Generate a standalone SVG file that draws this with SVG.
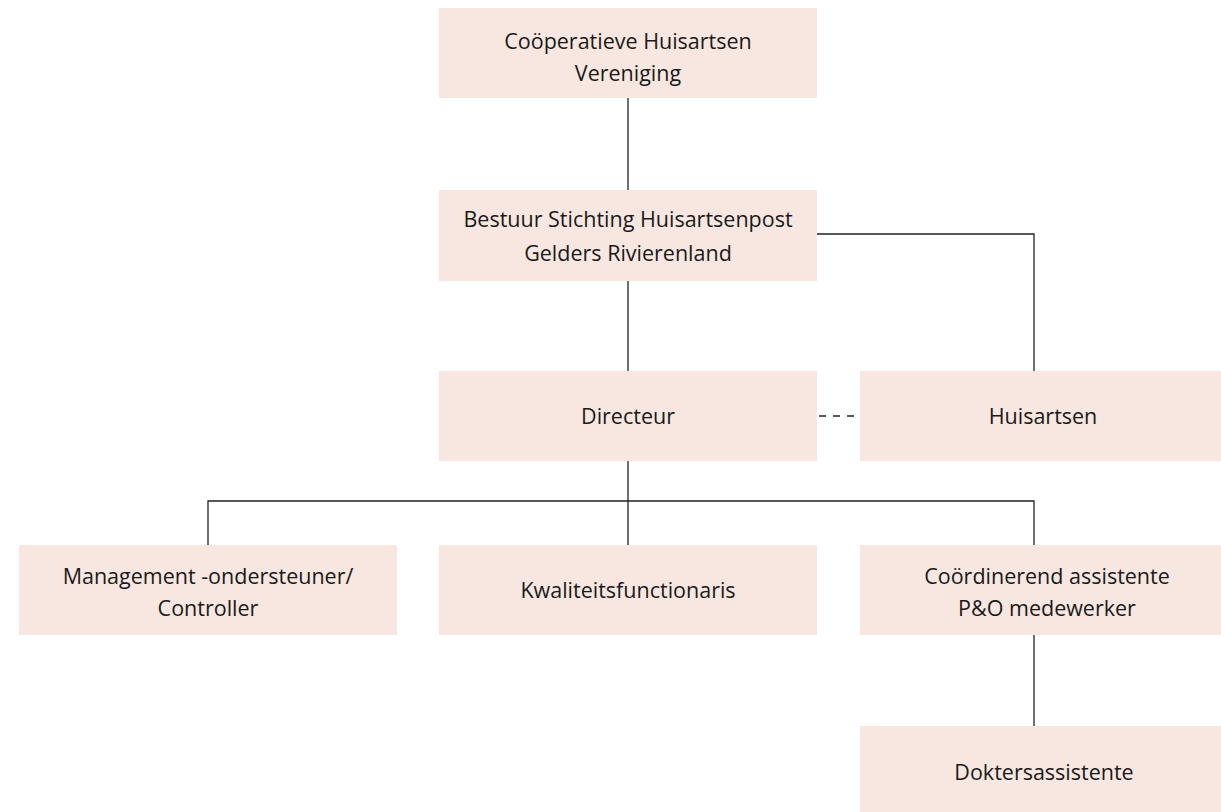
<svg xmlns="http://www.w3.org/2000/svg" width="1221" height="812" viewBox="0 0 1221 812">
<style>
.box{fill:#f7e7e0}
.t{font-family:"Open Sans","Liberation Sans",sans-serif;font-size:21.5px;fill:#1a1a1a;text-anchor:middle}
.c{stroke:#222;stroke-width:1.3;fill:none}
</style>
<rect width="1221" height="812" fill="#fff"/>
<g id="connectors">
<line class="c" x1="628" y1="98" x2="628" y2="190"/>
<line class="c" x1="628" y1="281" x2="628" y2="371"/>
<polyline class="c" points="817,234 1034,234 1034,371"/>
<line class="c" x1="817" y1="416" x2="860" y2="416" stroke-dasharray="7,7" stroke-dashoffset="-2"/>
<line class="c" x1="628" y1="461" x2="628" y2="545"/>
<polyline class="c" points="208,545 208,501 1034,501 1034,545"/>
<line class="c" x1="1034" y1="635" x2="1034" y2="726"/>
</g>
<g id="n1"><rect class="box" x="439" y="8" width="378" height="90"/><text class="t" x="628" y="49">Coöperatieve Huisartsen</text><text class="t" x="628" y="81">Vereniging</text></g>
<g id="n2"><rect class="box" x="439" y="190" width="378" height="91"/><text class="t" x="628" y="227">Bestuur Stichting Huisartsenpost</text><text class="t" x="628" y="261">Gelders Rivierenland</text></g>
<g id="n3"><rect class="box" x="439" y="371" width="378" height="90"/><text class="t" x="628" y="424">Directeur</text></g>
<g id="n4"><rect class="box" x="860" y="371" width="378" height="90"/><text class="t" x="1043" y="424">Huisartsen</text></g>
<g id="n5"><rect class="box" x="19" y="545" width="378" height="90"/><text class="t" x="208" y="584">Management -ondersteuner/</text><text class="t" x="208" y="616">Controller</text></g>
<g id="n6"><rect class="box" x="439" y="545" width="378" height="90"/><text class="t" x="628" y="598">Kwaliteitsfunctionaris</text></g>
<g id="n7"><rect class="box" x="860" y="545" width="378" height="90"/><text class="t" x="1047" y="584">Coördinerend assistente</text><text class="t" x="1047" y="616">P&amp;O medewerker</text></g>
<g id="n8"><rect class="box" x="860" y="726" width="378" height="86"/><text class="t" x="1044" y="780">Doktersassistente</text></g>
</svg>
